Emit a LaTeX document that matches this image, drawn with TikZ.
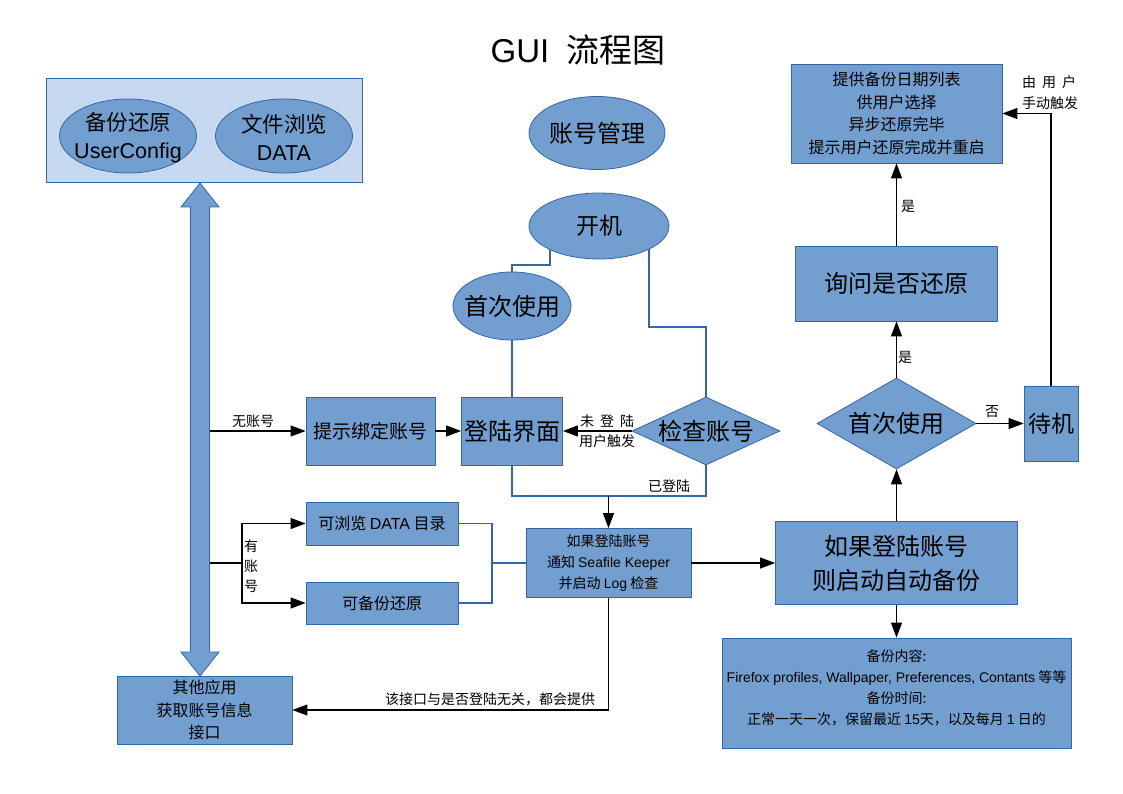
\documentclass[tikz,border=0pt]{standalone}
\usepackage{fontspec}
\setmainfont{Noto Sans CJK SC}
\newfontfamily\lat{Liberation Sans}
\usetikzlibrary{arrows.meta,shapes.geometric,backgrounds,calc}
\definecolor{bfill}{HTML}{729FCF}
\definecolor{bdraw}{HTML}{3465A4}
\definecolor{lfill}{HTML}{C6D9F0}
\newcommand\myfs[2]{\fontsize{#1}{#2}\selectfont}
\begin{document}
\begin{tikzpicture}[x=1pt,y=-1pt,
 box/.style={draw=bdraw,fill=bfill,line width=0.8pt,inner sep=0pt,align=center},
 ell/.style={ellipse,draw=bdraw,fill=bfill,line width=0.8pt,inner sep=0pt},
 dia/.style={diamond,draw=bdraw,fill=bfill,line width=0.8pt,inner sep=0pt},
 txt/.style={inner sep=0pt,align=center},
 arr/.style={-{Triangle[length=15pt,width=11pt]},line width=1.1pt,black},
 bl/.style={line width=1.1pt,draw=bdraw},
 lbl/.style={font=\myfs{14}{20},inner sep=0pt,align=center}]
\useasboundingbox (0,0) rectangle (1123,794);

% title
\node[txt,font=\myfs{33}{38}] (title) at (578,50) {{\lat GUI}\hspace{17pt}流程图};

% top-left group
\node[box,fill=lfill,minimum width=316pt,minimum height=104pt] (tl) at (204,130) {};
\node[ell,minimum width=137pt,minimum height=74pt] (e1) at (128,136) {};
\node[txt,font=\myfs{21.5}{28}] (e1t) at ([yshift=-1.5pt]e1.center) {备份还原\\{\lat UserConfig}};
\node[ell,minimum width=137pt,minimum height=74pt] (e2) at (284,136) {};
\node[txt,font=\myfs{21.5}{28}] (e2t) at ([yshift=-1.5pt]e2.center) {文件浏览\\{\lat DATA}};

% double arrow
\draw[draw=bdraw,fill=bfill,line width=0.8pt] (200,183) -- (219,207) -- (209.5,207) -- (209.5,652) -- (219,652) -- (200,676) -- (181,652) -- (190.5,652) -- (190.5,207) -- (181,207) -- cycle;

% middle top
\node[ell,minimum width=136pt,minimum height=73pt] (zh) at (597,133) {};
\node[txt,font=\myfs{24}{28}] (zht) at (zh) {账号管理};
\node[ell,minimum width=140pt,minimum height=66pt] (kj) at (599,226) {};
\node[txt,font=\myfs{23}{28}] (kjt) at (kj) {开机};
\node[ell,minimum width=118pt,minimum height=68pt] (sc1) at (512,306) {};
\node[txt,font=\myfs{24}{28}] (sc1t) at (sc1) {首次使用};

% login row
\node[box,minimum width=101pt,minimum height=68pt,font=\myfs{24}{28}] (dl) at (512,431) {登陆界面};
\node[box,minimum width=129pt,minimum height=68pt,font=\myfs{19}{24}] (ts) at (370.5,431) {提示绑定账号};
\node[dia,minimum width=148pt,minimum height=68pt] (jc) at (706,431) {};
\node[txt,font=\myfs{24}{28}] (jct) at (jc) {检查账号};

% account row
\node[box,minimum width=152pt,minimum height=43pt,font=\myfs{16}{20}] (br) at (382,523.5) {可浏览 {\lat DATA} 目录};
\node[box,minimum width=152pt,minimum height=42pt,font=\myfs{16}{20}] (bk) at (382,603) {可备份还原};
\node[box,minimum width=165pt,minimum height=69pt,font=\myfs{14}{21}] (ifl) at (608.5,563) {如果登陆账号\\通知 {\lat Seafile Keeper}\\并启动 {\lat Log} 检查};
\node[box,minimum width=242pt,minimum height=83pt,font=\myfs{24}{34}] (auto) at (896.5,563) {如果登陆账号\\则启动自动备份};

% right column
\node[dia,minimum width=159pt,minimum height=91pt] (sc2) at (896.5,423.5) {};
\node[txt,font=\myfs{24}{28}] (sc2t) at (sc2) {首次使用};
\node[box,minimum width=54pt,minimum height=75pt,font=\myfs{23}{28}] (dj) at (1051,423.5) {待机};
\node[box,minimum width=202pt,minimum height=75pt,font=\myfs{24}{28}] (xw) at (896.5,283.5) {询问是否还原};
\node[box,minimum width=211pt,minimum height=99pt,font=\myfs{16}{22.7}] (tr) at (896.5,113.5) {提供备份日期列表\\供用户选择\\异步还原完毕\\提示用户还原完成并重启};
\node[box,minimum width=349pt,minimum height=110pt] (bbr) at (896.5,693) {};
\node[txt,font=\myfs{14}{21}] (bbrt) at ([yshift=5pt]bbr.center) {备份内容:\\{\lat Firefox profiles, Wallpaper, Preferences, Contants} 等等\\备份时间:\\正常一天一次，保留最近 {\lat 15}天，以及每月 {\lat 1} 日的};
\node[box,minimum width=175pt,minimum height=68pt,font=\myfs{16}{22.5}] (blb) at (204.5,710) {其他应用\\获取账号信息\\接口};

% coordinates
\coordinate (s1) at (210,431);
\coordinate (s2) at (210,563);
\coordinate (bj) at (242,563);
\coordinate (rj) at (492,563);
\coordinate (lp) at (608.5,496);
\coordinate (k1) at (512,265);
\coordinate (k2) at (706,327);

% connectors
\begin{pgfonlayer}{background}
\fill[white] (0,0) rectangle (1123,794);
\draw[bl] ([xshift=-49pt]kj.center) |- (k1) -- (sc1.north);
\draw[bl] ([xshift=50pt]kj.center) |- (k2) -- (jc.north);
\end{pgfonlayer}
\draw[bl] (sc1.south) -- (dl.north);
\draw[arr] (s1) -- (ts.west);
\draw[arr] (ts.east) -- (dl.west);
\draw[arr] (jc.west) -- (dl.east);
\draw[bl] (dl.south) |- (lp) -| (jc.south);
\draw[arr] (lp) -- (ifl.north);
\draw[line width=1.1pt] (s2) -- (bj);
\draw[arr] (bj) |- (br.west);
\draw[arr] (bj) |- (bk.west);
\draw[bl] (br.east) -| (rj);
\draw[bl] (bk.east) -| (rj);
\draw[bl] (rj) -- (ifl.west);
\draw[arr] (ifl.east) -- (auto.west);
\draw[arr] (auto.south) -- (bbr.north);
\draw[arr] (auto.north) -- (sc2.south);
\draw[arr] (sc2.east) -- (dj.west);
\draw[arr] (sc2.north) -- (xw.south);
\draw[arr] (xw.north) -- (tr.south);
\draw[arr] (dj.north) |- (tr.east);
\draw[arr] (ifl.south) |- (blb.east);

% labels
\node[lbl] (l1) at (253,421) {无账号};
\node[lbl] (l2) at (607,421) {未\hspace{6pt}登\hspace{6pt}陆};
\node[lbl] (l3) at (607,441) {用户触发};
\node[lbl] (l4) at (669,486) {已登陆};
\node[lbl] (l5) at (251,566) {有\\账\\号};
\node[lbl] (l6) at (992,412) {否};
\node[lbl] (l7) at (905,357) {是};
\node[lbl] (l8) at (908,206) {是};
\node[lbl] (l9) at (1049,82) {由\hspace{6pt}用\hspace{6pt}户};
\node[lbl] (l10) at (1050,103) {手动触发};
\node[lbl] (l11) at (490,699) {该接口与是否登陆无关，都会提供};
\end{tikzpicture}
\end{document}
